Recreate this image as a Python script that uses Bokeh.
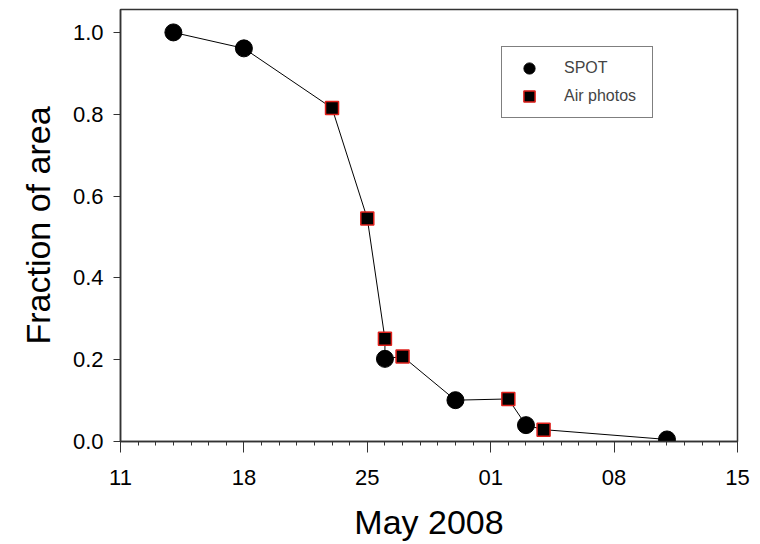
import pandas as pd
from bokeh.plotting import figure
from bokeh.models import (FixedTicker, DatetimeTickFormatter, Legend, LegendItem,
                          Range1d, ColumnDataSource, PrintfTickFormatter)
from bokeh.embed import file_html
from bokeh.resources import INLINE

# ---- data ----
spot_dates = ["2008-05-14", "2008-05-18", "2008-05-26", "2008-05-30", "2008-06-03", "2008-06-11"]
spot_frac = [1.0, 0.961, 0.202, 0.101, 0.04, 0.005]
air_dates = ["2008-05-23", "2008-05-25", "2008-05-26", "2008-05-27", "2008-06-02", "2008-06-04"]
air_frac = [0.815, 0.545, 0.251, 0.208, 0.104, 0.029]
x_tick_dates = ["2008-05-11", "2008-05-18", "2008-05-25", "2008-06-01", "2008-06-08", "2008-06-15"]
y_ticks = [0.0, 0.2, 0.4, 0.6, 0.8, 1.0]

spot = ColumnDataSource(dict(x=pd.to_datetime(spot_dates), y=spot_frac))
air = ColumnDataSource(dict(x=pd.to_datetime(air_dates), y=air_frac))

allpts = pd.DataFrame({
    "x": list(pd.to_datetime(spot_dates)) + list(pd.to_datetime(air_dates)),
    "y": spot_frac + air_frac,
})
allpts["neg"] = -allpts["y"]
allpts = allpts.sort_values(["x", "neg"])
line_src = ColumnDataSource(dict(x=allpts["x"].values, y=allpts["y"].values))

xt = pd.to_datetime(x_tick_dates)
x_start, x_end = xt[0], xt[-1]

def ms(ts):
    return ts.value / 1e6

p = figure(width=760, height=544, x_axis_type="datetime", output_backend="svg",
           toolbar_location=None,
           x_range=Range1d(x_start, x_end), y_range=Range1d(0, 1.056),
           min_border_left=120, min_border_right=23, min_border_top=9, min_border_bottom=103)

p.background_fill_color = "white"
p.border_fill_color = "white"
p.grid.visible = False
p.outline_line_color = "#333333"
p.outline_line_width = 1.5

p.line("x", "y", source=line_src, line_color="black", line_width=1)
c = p.scatter("x", "y", source=spot, marker="circle", size=17,
              fill_color="black", line_color="black")
s = p.scatter("x", "y", source=air, marker="square", size=13,
              fill_color="black", line_color="#e0201b", line_width=1.5)

font = "Liberation Sans"

xa = p.xaxis[0]
xa.ticker = FixedTicker(ticks=[ms(t) for t in xt],
                        minor_ticks=[ms(t) for t in pd.date_range(x_start, x_end, freq="D")])
xa.formatter = DatetimeTickFormatter(days="%d", months="%d", years="%d", hours="%d")
xa.axis_label = "May 2008"
ya = p.yaxis[0]
ya.ticker = FixedTicker(ticks=y_ticks)
ya.formatter = PrintfTickFormatter(format="%.1f")
ya.axis_label = "Fraction of area"

for ax in (xa, ya):
    ax.axis_line_color = "#333333"
    ax.axis_line_width = 1.5
    ax.major_tick_line_color = "#333333"
    ax.minor_tick_line_color = "#333333"
    ax.major_tick_in = 0
    ax.minor_tick_in = 0
    ax.major_label_text_font = font
    ax.major_label_text_font_size = "22px"
    ax.major_label_text_color = "black"
    ax.axis_label_text_font = font
    ax.axis_label_text_font_size = "34px"
    ax.axis_label_text_font_style = "normal"
    ax.axis_label_text_color = "black"

xa.major_tick_out = 11
xa.minor_tick_out = 4
xa.major_label_standoff = 17
xa.axis_label_standoff = 15
ya.major_tick_out = 7
ya.minor_tick_out = 0
ya.major_label_standoff = 10
ya.axis_label_standoff = 13

legend = Legend(items=[LegendItem(label="SPOT", renderers=[c]),
                       LegendItem(label="Air photos", renderers=[s])],
                location=(381, 323))
legend.glyph_width = 40
legend.glyph_height = 28
legend.spacing = 0
legend.padding = 7
legend.margin = 0
legend.label_standoff = 15
legend.label_width = 81
legend.label_text_font = font
legend.label_text_font_size = "16px"
legend.border_line_color = "black"
legend.border_line_width = 1
legend.background_fill_color = "white"
legend.background_fill_alpha = 1
p.add_layout(legend)

open("out.html", "w").write(file_html(p, INLINE))
